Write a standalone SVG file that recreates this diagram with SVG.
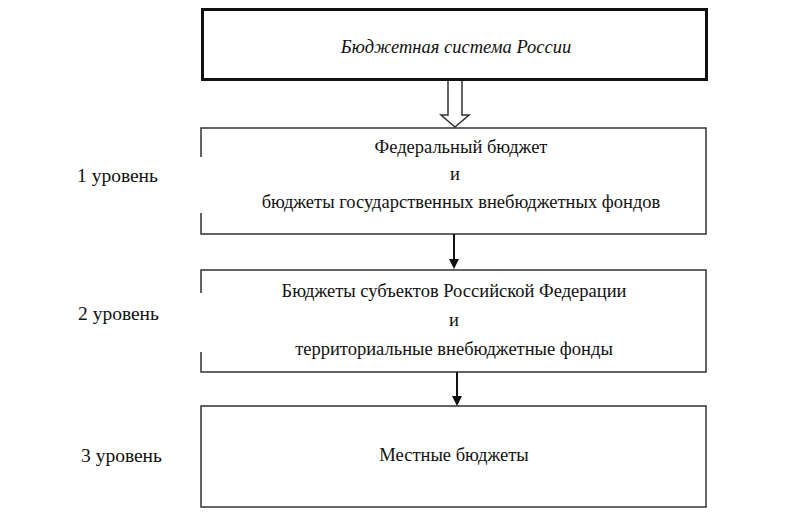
<svg xmlns="http://www.w3.org/2000/svg" width="796" height="530" viewBox="0 0 796 530">
<style>
text{font-family:"Liberation Serif","Times New Roman",serif;font-size:18.5px;fill:#111}
.c{text-anchor:middle}
.lvl{font-size:19.5px}
.box{fill:#fff;stroke:#333;stroke-width:1.5}
.edge{fill:none;stroke:#333;stroke-width:1.5}
.conn{stroke:#111;stroke-width:2;fill:none}
.head{fill:#111}
</style>
<rect width="796" height="530" fill="#fff"/>
<g id="root">
<rect x="202.5" y="9.5" width="504" height="70" fill="#fff" stroke="#111" stroke-width="3"/>
<text class="c" x="456" y="53" font-style="italic">Бюджетная система России</text>
</g>
<g id="level1">
<path class="edge" d="M201,157 V128 H706 V234 H201 V213"/>
<text class="c" x="461" y="153">Федеральный бюджет</text>
<text class="c" x="455" y="180">и</text>
<text class="c" x="461" y="208">бюджеты государственных внебюджетных фондов</text>
</g>
<g id="level2">
<path class="edge" d="M201,293 V270 H706 V372 H201 V352"/>
<text class="c" x="454" y="297">Бюджеты субъектов Российской Федерации</text>
<text class="c" x="454" y="326">и</text>
<text class="c" x="454" y="355">территориальные внебюджетные фонды</text>
</g>
<g id="level3">
<rect class="box" x="201" y="406" width="505" height="101"/>
<text class="c" x="454" y="461">Местные бюджеты</text>
</g>
<g id="labels">
<text class="lvl" x="77" y="182">1 уровень</text>
<text class="lvl" x="78" y="320">2 уровень</text>
<text class="lvl" x="81" y="462">3 уровень</text>
</g>
<g id="connectors">
<path d="M448,81 V115 H441 L455,127 L469,115 H462 V81" fill="#fff" stroke="#333" stroke-width="1.5"/>
<line class="conn" x1="454" y1="234" x2="454" y2="260"/>
<polygon class="head" points="449,259 459,259 454,269"/>
<line class="conn" x1="457" y1="372" x2="457" y2="397"/>
<polygon class="head" points="452,396 462,396 457,406"/>
</g>
</svg>
